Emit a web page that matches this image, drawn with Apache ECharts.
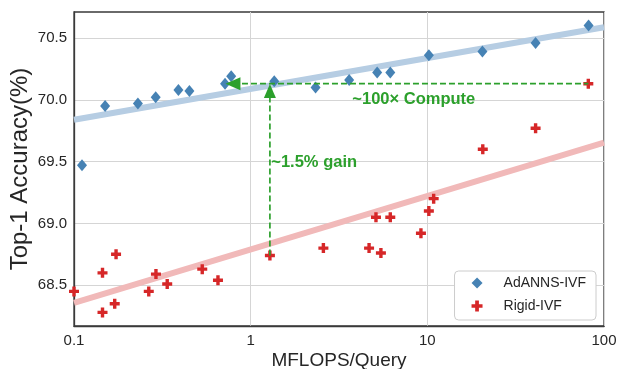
<!DOCTYPE html>
<html>
<head>
<meta charset="utf-8">
<script src="https://cdn.jsdelivr.net/npm/echarts@6/dist/echarts.min.js"></script>
<style>html,body{margin:0;padding:0;background:#fff}#c{width:619px;height:369px}</style>
</head>
<body>
<div id="c"></div>
<script>
// AdANNS-IVF points: [MFLOPS/Query, Top-1 accuracy]
const adannsX = [0.111, 0.15, 0.23, 0.29, 0.39, 0.45, 0.716, 0.776, 1.36, 2.33, 3.61, 5.2, 6.17, 10.2, 20.5, 41, 81.8];
const adannsY = [69.47, 69.95, 69.97, 70.02, 70.08, 70.07, 70.13, 70.19, 70.15, 70.10, 70.16, 70.22, 70.22, 70.36, 70.39, 70.46, 70.60];
// Rigid-IVF points
const rigidX = [0.1, 0.145, 0.145, 0.173, 0.17, 0.265, 0.291, 0.337, 0.532, 0.653, 1.285, 2.58, 4.68, 5.12, 5.46, 6.17, 9.2, 10.2, 10.86, 20.6, 41, 81.5];
const rigidY = [68.45, 68.60, 68.28, 68.75, 68.35, 68.45, 68.59, 68.51, 68.63, 68.54, 68.74, 68.80, 68.80, 69.05, 68.76, 69.05, 68.92, 69.10, 69.20, 69.60, 69.77, 70.13];
// Trend lines (endpoints at axis limits)
const trendX = [0.1, 100];
const adannsTrendY = [69.838, 70.586];
const rigidTrendY = [68.358, 69.654];
// Annotations
const computeLineX = [0.794, 81.5];
const computeLineY = 70.13;
const gainLineX = 1.285;
const gainLineY = [68.74, 70.07];
const annotations = [
  {name: '~100\u00d7 Compute', x: 3.74, y: 70.0},
  {name: '~1.5% gain', x: 1.3, y: 69.49}
];
const yTicks = [68.5, 69.0, 69.5, 70.0, 70.5];
const xTicks = [0.1, 1, 10, 100];

const FONT = '"Liberation Sans", Arial, sans-serif';
const BLUE = '#4682b4', RED = '#d62728', GREEN = '#2ca02c';
const CROSS = 'path://M3.3,0 H6.7 V3.3 H10 V6.7 H6.7 V10 H3.3 V6.7 H0 V3.3 H3.3 Z';

const zip = (xs, ys) => xs.map((x, i) => [x, ys[i]]);

const chart = echarts.init(document.getElementById('c'), null, {renderer: 'canvas'});
chart.setOption({
  animation: false,
  textStyle: {fontFamily: FONT},
  grid: {left: 74, right: 15, top: 12, bottom: 43, containLabel: false, outerBoundsMode: 'none',
    show: true, borderColor: '#3a3a3a', borderWidth: 1.3, backgroundColor: 'transparent'},
  xAxis: {
    type: 'log', logBase: 10, min: 0.1, max: 100,
    name: 'MFLOPS/Query', nameLocation: 'middle', nameGap: 25, nameMoveOverlap: false,
    nameTextStyle: {fontSize: 19, color: '#262626', fontFamily: FONT},
    axisLine: {show: true, onZero: false, lineStyle: {color: '#3a3a3a', width: 1.3}},
    axisTick: {show: false},
    minorTick: {show: false},
    axisLabel: {fontSize: 15, color: '#262626', margin: 7, fontFamily: FONT,
      formatter: v => (xTicks.some(t => Math.abs(t - v) < 1e-9) ? String(+v.toPrecision(3)) : '')},
    splitLine: {show: true, lineStyle: {color: '#d5d5d5', width: 1}}
  },
  yAxis: {
    type: 'value', min: 68.17, max: 70.71,
    name: 'Top-1 Accuracy(%)', nameLocation: 'middle', nameGap: 42, nameMoveOverlap: false,
    nameTextStyle: {fontSize: 24, color: '#262626', fontFamily: FONT},
    axisLine: {show: true, onZero: false, lineStyle: {color: '#3a3a3a', width: 1.3}},
    axisTick: {show: false, customValues: yTicks},
    axisLabel: {fontSize: 15, color: '#262626', margin: 7, fontFamily: FONT,
      customValues: yTicks, formatter: v => v.toFixed(1)},
    splitLine: {show: true, lineStyle: {color: '#d5d5d5', width: 1}}
  },
  legend: {
    orient: 'vertical', right: 23, bottom: 49,
    data: ['AdANNS-IVF', 'Rigid-IVF'],
    itemWidth: 11, itemHeight: 11, itemGap: 9,
    padding: [5, 10, 7, 17],
    borderColor: '#cccccc', borderWidth: 1, borderRadius: 4,
    backgroundColor: '#ffffff',
    textStyle: {fontSize: 14, color: '#262626', fontFamily: FONT, padding: [0, 0, 0, 16]}
  },
  series: [
    {type: 'line', data: zip(trendX, adannsTrendY), showSymbol: false, silent: true, z: 1,
     lineStyle: {color: '#b6cde3', width: 6}},
    {type: 'line', data: zip(trendX, rigidTrendY), showSymbol: false, silent: true, z: 1,
     lineStyle: {color: '#f1b9b9', width: 6}},
    {name: 'AdANNS-IVF', type: 'scatter', data: zip(adannsX, adannsY), z: 3,
     symbol: 'diamond', symbolSize: [10, 12], itemStyle: {color: BLUE, opacity: 1}},
    {name: 'Rigid-IVF', type: 'scatter', data: zip(rigidX, rigidY), z: 3,
     symbol: CROSS, symbolSize: 10, itemStyle: {color: RED, opacity: 1}},
    {type: 'line', silent: true, z: 4,
     data: [
       {value: [computeLineX[0], computeLineY], symbol: 'triangle', symbolRotate: 90, symbolSize: [13, 15]},
       {value: [computeLineX[1], computeLineY], symbol: 'none'}
     ],
     showAllSymbol: true,
     itemStyle: {color: GREEN, opacity: 1},
     lineStyle: {color: GREEN, width: 1.7, type: [6, 3]}},
    {type: 'line', silent: true, z: 4,
     data: [
       {value: [gainLineX, gainLineY[0]], symbol: 'none'},
       {value: [gainLineX, gainLineY[1]], symbol: 'triangle', symbolSize: [12, 14]}
     ],
     showAllSymbol: true,
     itemStyle: {color: GREEN, opacity: 1},
     lineStyle: {color: GREEN, width: 1.7, type: [6, 3]}},
    {type: 'scatter', silent: true, z: 5, symbolSize: 1, itemStyle: {color: 'rgba(0,0,0,0)', opacity: 1},
     data: annotations.map(a => ({name: a.name, value: [a.x, a.y]})),
     label: {show: true, position: 'right', distance: 0, formatter: p => p.name, opacity: 1,
       color: GREEN, fontWeight: 'bold', fontSize: 16.5, fontFamily: FONT}}
  ]
});
</script>
</body>
</html>
